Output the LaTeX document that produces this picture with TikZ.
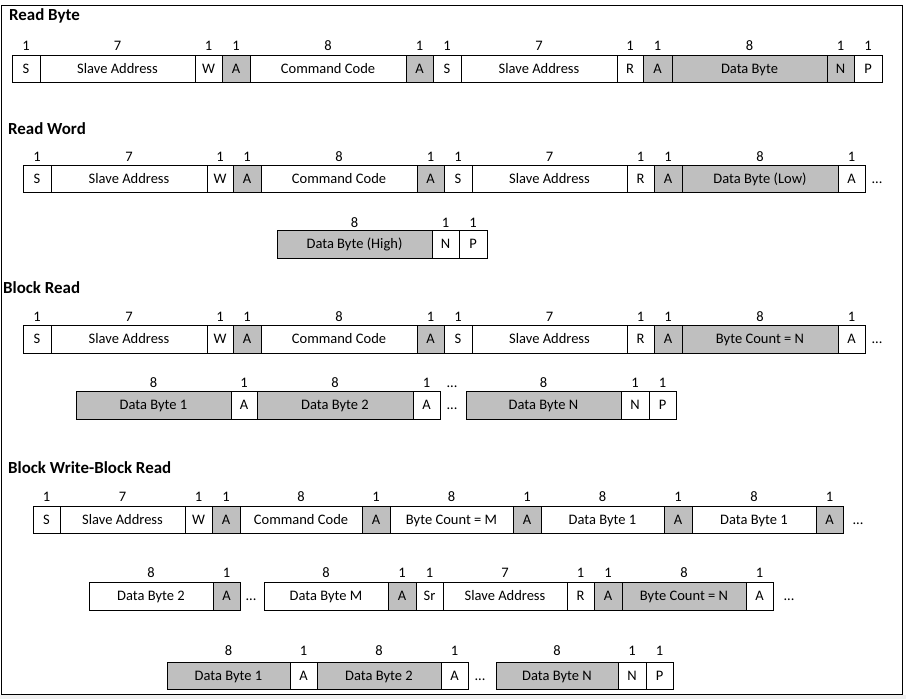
\documentclass[tikz,border=0pt]{standalone}
\usepackage{fontspec}
\setmainfont{Carlito}
\definecolor{boxgray}{RGB}{191,191,191}
\definecolor{stripgray}{RGB}{240,240,240}
\tikzset{
  cell/.style={draw=black, line width=0.9pt, inner sep=0pt, outer sep=0pt,
    font=\fontsize{14.5}{17}\selectfont, text height=9.3pt, text depth=0pt},
  bitlabel/.style={inner sep=0pt, font=\fontsize{14.5}{17}\selectfont,
    text height=9.2pt, text depth=0pt},
  ellip/.style={inner sep=0pt, font=\fontsize{14.5}{17}\selectfont,
    text height=9.3pt, text depth=0pt},
  sectitle/.style={anchor=base west, inner sep=0pt,
    font=\fontsize{16.9}{20}\selectfont\bfseries},
}
% #1 label y, #2 top, #3 bottom, #4 list name/x1/x2/fill/bits/text
\newcommand\fieldrow[4]{%
  \foreach \nm/\xa/\xb/\fc/\bits/\txt in {#4} {
    \node[cell, fill=\fc, minimum width={(\xb-\xa)*1pt},
      minimum height={(#3-#2)*1pt}] (\nm) at ({(\xa+\xb)/2},{(#2+#3)/2}) {\txt};
    \node[bitlabel] (\nm-bits) at ({(\xa+\xb)/2},#1) {\bits};
  }}
\begin{document}
\begin{tikzpicture}[x=1pt,y=-1pt]
\useasboundingbox (0,0) rectangle (906,699);
\fill[white] (0,0) rectangle (906,699);
\fill[stripgray] (0,694.5) rectangle (906,699);
\draw[line width=1pt, black] (1,5) rectangle (902,694);

% ---------- Read Byte ----------
\node[sectitle] (t1) at (9,20) {Read Byte};
\fieldrow{46}{55}{82}{%
  a1/12/40/white/1/S,
  a2/40/195/white/7/Slave Address,
  a3/195/222/white/1/W,
  a4/222/250/boxgray/1/A,
  a5/250/406/white/8/Command Code,
  a6/406/433/boxgray/1/A,
  a7/433/461/white/1/S,
  a8/461/617/white/7/Slave Address,
  a9/617/643/white/1/R,
  a10/643/672/boxgray/1/A,
  a11/672/827/boxgray/8/Data Byte,
  a12/827/854/boxgray/1/N,
  a13/854/882/white/1/P}

% ---------- Read Word ----------
\node[sectitle] (t2) at (8,134) {Read Word};
\fieldrow{157}{165}{192}{%
  b1/23/51/white/1/S,
  b2/51/207/white/7/Slave Address,
  b3/207/233/white/1/W,
  b4/233/261/boxgray/1/A,
  b5/261/417/white/8/Command Code,
  b6/417/444/boxgray/1/A,
  b7/444/472/white/1/S,
  b8/472/627/white/7/Slave Address,
  b9/627/654/white/1/R,
  b10/654/682/boxgray/1/A,
  b11/682/838/boxgray/8/Data Byte (Low),
  b12/838/865/white/1/A}
\node[ellip] (b-dots) at (877,178.5) {...};
\fieldrow{223}{230}{258}{%
  c1/277/432/boxgray/8/Data Byte (High),
  c2/432/459/white/1/N,
  c3/459/487/white/1/P}

% ---------- Block Read ----------
\node[sectitle] (t3) at (3,293) {Block Read};
\fieldrow{317}{325}{353}{%
  d1/23/51/white/1/S,
  d2/51/207/white/7/Slave Address,
  d3/207/233/white/1/W,
  d4/233/261/boxgray/1/A,
  d5/261/417/white/8/Command Code,
  d6/417/444/boxgray/1/A,
  d7/444/472/white/1/S,
  d8/472/627/white/7/Slave Address,
  d9/627/654/white/1/R,
  d10/654/682/boxgray/1/A,
  d11/682/838/boxgray/8/Byte Count = N,
  d12/838/865/white/1/A}
\node[ellip] (d-dots) at (877,339) {...};
\fieldrow{383}{391}{419}{%
  e1/76/231/boxgray/8/Data Byte 1,
  e2/231/257/white/1/A,
  e3/257/413/boxgray/8/Data Byte 2,
  e4/413/440/white/1/A,
  e5/466/621/boxgray/8/Data Byte N,
  e6/621/649/white/1/N,
  e7/649/676/white/1/P}
\node[ellip] (e-dots-top) at (452,383) {...};
\node[ellip] (e-dots) at (452,405) {...};

% ---------- Block Write-Block Read ----------
\node[sectitle] (t4) at (8,473) {Block Write-Block Read};
\fieldrow{497}{506}{533}{%
  f1/33/60/white/1/S,
  f2/60/185/white/7/Slave Address,
  f3/185/212/white/1/W,
  f4/212/240/boxgray/1/A,
  f5/240/362/white/8/Command Code,
  f6/362/390/boxgray/1/A,
  f7/390/513/white/8/Byte Count = M,
  f8/513/541/boxgray/1/A,
  f9/541/664/white/8/Data Byte 1,
  f10/664/692/boxgray/1/A,
  f11/692/816/white/8/Data Byte 1,
  f12/816/843/boxgray/1/A}
\node[ellip] (f-dots) at (858,519.5) {...};
\fieldrow{573}{582}{610}{%
  g1/89/213/white/8/Data Byte 2,
  g2/213/240/boxgray/1/A,
  g3/264/388/white/8/Data Byte M,
  g4/388/416/boxgray/1/A,
  g5/416/443/white/1/Sr,
  g6/443/567/white/7/Slave Address,
  g7/567/594/white/1/R,
  g8/594/622/boxgray/1/A,
  g9/622/746/boxgray/8/Byte Count = N,
  g10/746/773/white/1/A}
\node[ellip] (g-dots1) at (251,596) {...};
\node[ellip] (g-dots2) at (789,596) {...};
\fieldrow{651}{662}{689}{%
  h1/167/290/boxgray/8/Data Byte 1,
  h2/290/317/white/1/A,
  h3/317/441/boxgray/8/Data Byte 2,
  h4/441/468/white/1/A,
  h5/496/618/boxgray/8/Data Byte N,
  h6/618/646/white/1/N,
  h7/646/673/white/1/P}
\node[ellip] (h-dots) at (480,675.5) {...};
\end{tikzpicture}
\end{document}
